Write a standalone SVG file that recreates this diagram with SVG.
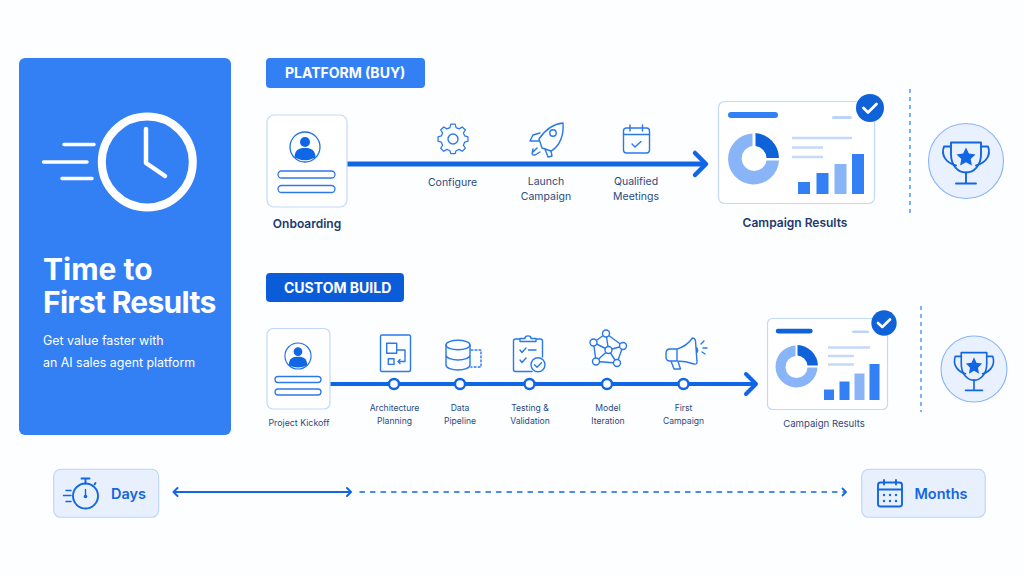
<svg xmlns="http://www.w3.org/2000/svg" xmlns:xlink="http://www.w3.org/1999/xlink" width="1024" height="576" viewBox="0 0 1024 576">
<style>
text{font-family:Inter,"Noto Sans","Liberation Sans",sans-serif}
.ic{fill:none;stroke:#2a78ea;stroke-width:1.4;stroke-linecap:round;stroke-linejoin:round}
.icb{fill:none;stroke:#1266e2;stroke-width:1.9;stroke-linecap:round;stroke-linejoin:round}
.w{fill:none;stroke:#fff;stroke-linecap:round;stroke-linejoin:round}
.card{fill:#fff;stroke:#c3d8fb;stroke-width:1.2}
.bar{fill:#fff;stroke:#2f78ea;stroke-width:1.3}
.s1{font-size:10.500px;fill:#2c4a7e;text-anchor:middle}
.s2{font-size:8.600px;fill:#2c4a7e;text-anchor:middle}
.hd{font-size:12px;font-weight:600;fill:#1c3a6e;text-anchor:middle}
.tag{font-size:14px;font-weight:700;fill:#fff}
.ln{stroke:#c5d9fa;stroke-width:2.4;fill:none}
.m{fill:#3380f5}.l{fill:#8ab4f8}.d{fill:#0f62d8}
.conn{fill:none;stroke:#1066e4;stroke-linejoin:round;stroke-linecap:round}
.node{fill:#fff;stroke:#1066e4;stroke-width:2.4}
.pill{fill:#e8f0fe;stroke:#bcd4fa;stroke-width:1.1}
.pt{font-size:14.500px;font-weight:600;fill:#1565e0}
</style>
<defs>
<g id="person">
<circle r="15" fill="#fff" stroke="#1f6fe5" stroke-width="1.300"/>
<circle cy="-5" r="5" fill="#1066e4"/>
<path d="M-10.500 10.500C-10.500 2.500-5.500 1 0 1S10.500 2.500 10.500 10.500Q5 13.200 0 13.200T-10.500 10.500Z" fill="#1066e4"/>
</g>
<g id="trophy">
<path class="icb" d="M-15-14H15V-2C15 9 8 16 0 16S-15 9-15-2Z"/>
<path class="icb" d="M-15-10H-22C-25-2-21 6-10 9M15-10H22C25-2 21 6 10 9"/>
<path class="icb" d="M0 16V27M-10 27H10"/>
<path d="M0-9L2.900-3 9.500-2.100 4.700 2.400 5.900 9 0 5.800-5.900 9-4.700 2.400-9.500-2.100-2.900-3Z" fill="#1066e4"/>
</g>
</defs>
<rect width="1024" height="576" fill="#fdfeff"/>

<g id="connectors">
<path class="conn" stroke-width="5" stroke-linecap="butt" d="M347 164H704"/>
<path class="conn" stroke-width="4.500" d="M695 153L706 164 695 175"/>
<path class="conn" stroke-width="4" d="M330 384H754"/>
<path class="conn" stroke-width="4" d="M746 374L756 384 746 394"/>
<path class="conn" stroke-width="2" d="M174 492H350M177.500 488L173.500 492 177.500 496M347 488L351 492 347 496"/>
<path class="conn" stroke-width="1.400" stroke-dasharray="4.500 6" stroke-linecap="butt" d="M360 492H844"/>
<path class="conn" stroke-width="1.800" d="M842.500 488.500L846 492 842.500 495.500"/>
<path fill="none" stroke="#5b97ef" stroke-width="1.500" stroke-dasharray="4 4" d="M910 89V215M921 306V412"/>
</g>

<g id="panel">
<rect x="19" y="58" width="212" height="377" rx="6" fill="#3380f5"/>
<circle class="w" cx="147.300" cy="162" r="45.500" stroke-width="8"/>
<path class="w" stroke-width="4.500" d="M146 129V163L165 176"/>
<path class="w" stroke-width="3.500" d="M64 144.500H94M43.500 162H87M62 178.500H92"/>
<text x="43" y="280" font-size="30" font-weight="700" fill="#fff">Time to</text>
<text x="43" y="313" font-size="30" font-weight="700" fill="#fff" letter-spacing="-.7">First Results</text>
<text x="43" y="345" font-size="12.400" fill="#fff">Get value faster with</text>
<text x="43" y="367" font-size="12.400" fill="#fff">an AI sales agent platform</text>
</g>

<g id="platform-label">
<rect x="266" y="58" width="159" height="30" rx="4" fill="#3380f5"/>
<text class="tag" x="285" y="78">PLATFORM (BUY)</text>
</g>
<g id="onboarding">
<rect class="card" x="267" y="115" width="80" height="92" rx="7"/>
<use href="#person" x="305" y="147"/>
<rect class="bar" x="278" y="171" width="57" height="7" rx="3.500"/>
<rect class="bar" x="278" y="185.500" width="57" height="7" rx="3.500"/>
<text class="hd" x="307" y="228">Onboarding</text>
</g>
<g id="configure">
<path class="ic" transform="translate(453 139) scale(.88) translate(-453 -139.500)" d="M450.500 122.500H455.500L456.500 126.500 460 128 463.500 125.800 467 129.300 464.800 132.800 466.300 136 470 137V142L466.300 143 464.800 146.500 467 150 463.500 153.500 460 151.300 456.500 152.800 455.500 156H450.500L449.500 152.800 446 151.300 442.500 153.500 439 150 441.200 146.500 439.700 143 436 142V137L439.700 136 441.200 132.800 439 129.300 442.500 125.800 446 128 449.500 126.500Z"/>
<circle class="ic" cx="453" cy="139" r="5"/>
<text class="s1" x="452.500" y="186">Configure</text>
</g>
<g id="launch">
<path class="ic" d="M563 123C553 124 545 130 539 139L542 148 551 151C560 146 564 135 563 123Z"/>
<circle class="ic" cx="553" cy="133" r="3.200"/>
<path class="ic" d="M540 133L533 135 530 141 539 141M551 151L552 156 548 157 545 149"/>
<path class="ic" d="M537 148L533 152M540 152L535 155 533 155M533 149L532 154"/>
<text class="s1" x="546" y="185">Launch</text>
<text class="s1" x="546" y="200">Campaign</text>
</g>
<g id="qualified">
<rect class="ic" x="623.500" y="128" width="26" height="25" rx="3"/>
<path class="ic" d="M623.500 134.500H649.500M630 125V131M642.500 125V131M632 144L635 147 641 141.500"/>
<text class="s1" x="636" y="185">Qualified</text>
<text class="s1" x="636" y="200">Meetings</text>
</g>
<g id="results-1">
<rect class="card" x="718.500" y="101.500" width="156" height="102" rx="6"/>
<rect class="m" x="728" y="112" width="50" height="6" rx="3"/>
<rect x="832" y="116" width="20" height="3" rx="1.500" fill="#bcd4fa"/>
<path class="l" d="M752.500 133.500A25.500 25.500 0 1 0 779 160.500H766.500A12.500 12.500 0 1 1 752.500 146Z"/>
<path class="d" d="M755.500 133A25.500 25.500 0 0 1 779 158H766.500A12.500 12.500 0 0 0 755.500 146Z"/>
<path class="ln" d="M792 138H852M792 147.500H823M792 157H823"/>
<rect class="m" x="798" y="182" width="12" height="12"/>
<rect class="m" x="816.500" y="173" width="12" height="21"/>
<rect class="l" x="834.500" y="164" width="12" height="30"/>
<rect class="m" x="852" y="154" width="12" height="40"/>
<circle class="d" cx="870" cy="108" r="14"/>
<path class="w" stroke-width="2.800" d="M863.500 108L868 112.500 876.500 104"/>
<text class="hd" x="795" y="227">Campaign Results</text>
</g>
<g id="trophy-1">
<circle cx="966" cy="161" r="37.500" fill="#eaf1fe" stroke="#8ab4f8" stroke-width="1.100"/>
<use href="#trophy" x="966" y="156.500"/>
</g>

<g id="custom-label">
<rect x="266" y="273" width="138" height="29" rx="4" fill="#0b5cd8"/>
<text class="tag" x="284" y="293">CUSTOM BUILD</text>
</g>
<g id="kickoff">
<rect class="card" x="267" y="328.500" width="63" height="80.500" rx="6"/>
<use href="#person" transform="translate(298 356) scale(.87)"/>
<rect class="bar" x="275" y="376.500" width="46" height="6" rx="3"/>
<rect class="bar" x="275" y="389" width="46" height="6" rx="3"/>
<text x="299" y="426" font-size="8.800" fill="#2c4a7e" text-anchor="middle">Project Kickoff</text>
</g>
<g id="architecture">
<rect class="ic" x="380.500" y="335" width="30" height="36.500" rx="1.500"/>
<rect class="ic" x="386.700" y="343.300" width="10" height="10"/>
<rect class="ic" x="388.300" y="358.700" width="5.700" height="5.700"/>
<path class="ic" d="M396.700 350H405V361.500H398M400 359.500L398 361.500 400 363.500"/>
<circle class="node" cx="394" cy="384" r="5"/>
<text class="s2" x="394.500" y="411">Architecture</text>
<text class="s2" x="394.500" y="424">Planning</text>
</g>
<g id="data">
<ellipse class="ic" cx="458" cy="345" rx="12" ry="4.800"/>
<path class="ic" d="M446 345V365C446 368 452 370 458 370S470 368 470 365V345M446 355C446 358 452 360 458 360S470 358 470 355"/>
<path class="ic" stroke-dasharray="1.800 2.200" stroke-linecap="butt" d="M471 350H481V367H471"/>
<circle class="node" cx="460" cy="384" r="5"/>
<text class="s2" x="460" y="411">Data</text>
<text class="s2" x="460" y="424">Pipeline</text>
</g>
<g id="testing">
<path class="ic" d="M520 339H515.500Q513.500 339 513.500 341V369.500Q513.500 371.500 515.500 371.500H532M536 339H540.500Q542.500 339 542.500 341V357M520 341.500V338.500H525C525 335 531 335 531 338.500H536V341.500Z"/>
<path class="ic" d="M520 350L522 352.500 526 348M528.500 350H536M520 360L522 362.500 526 358"/>
<circle class="ic" cx="538" cy="364.700" r="7"/>
<path class="ic" d="M534.500 364.800L537 367.300 541.500 362.800"/>
<circle class="node" cx="529.500" cy="384" r="5"/>
<text class="s2" x="530" y="411">Testing &amp;</text>
<text class="s2" x="530" y="424">Validation</text>
</g>
<g id="model">
<path class="ic" d="M606 333.500L623 346 617 363 596 361.500 593.500 342.500ZM606 333.500L608.500 350 593.500 342.500M608.500 350L623 346M608.500 350L617 363M608.500 350L596 361.500"/>
<g class="ic" style="fill:#fff"><circle cx="606" cy="333.500" r="3.500"/><circle cx="623" cy="346" r="3.500"/><circle cx="617" cy="363" r="3.500"/><circle cx="596" cy="361.500" r="3.500"/><circle cx="593.500" cy="342.500" r="3.500"/><circle cx="608.500" cy="350" r="3.500"/></g>
<circle class="node" cx="607" cy="384" r="5"/>
<text class="s2" x="608" y="411">Model</text>
<text class="s2" x="608" y="424">Iteration</text>
</g>
<g id="first-campaign">
<path class="ic" d="M677 349H670Q666 349 666 353.500V357Q666 361 670 361H677ZM677 349C684 347 689 343 692.500 338Q695 338 695.500 341L697 362Q697 364.500 694 364 686 361 677 361ZM671 361L674 369H680.500L678 361.500M696 347Q699 350 696.500 353"/>
<path class="ic" d="M701 344L704 341M703 348H707M702 352L705 354"/>
<circle class="node" cx="683.500" cy="384" r="5"/>
<text class="s2" x="683.500" y="411">First</text>
<text class="s2" x="683.500" y="424">Campaign</text>
</g>
<g id="results-2">
<rect class="card" x="767.500" y="318.500" width="120" height="91" rx="5"/>
<rect class="d" x="775.700" y="328.700" width="37" height="4.800" rx="2.400"/>
<rect x="852" y="330.500" width="17" height="2.500" rx="1.200" fill="#bcd4fa"/>
<path class="l" d="M795.500 345.500A21 21 0 1 0 817.500 367.500H807.500A11 11 0 1 1 795.500 356Z"/>
<path class="d" d="M797.500 345A21.500 21.500 0 0 1 818 365.500H807.500A11 11 0 0 0 797.500 355.500Z"/>
<path class="ln" stroke-width="2" d="M828 347.500H870M828 356H854M828 364.500H854"/>
<rect class="m" x="824" y="389.500" width="10" height="10.500"/>
<rect class="m" x="839.500" y="381.500" width="10" height="18.500"/>
<rect class="l" x="854.500" y="373.500" width="10" height="26.500"/>
<rect class="m" x="869.500" y="364" width="10" height="36"/>
<circle class="d" cx="884" cy="323" r="12.700"/>
<path class="w" stroke-width="2.600" d="M878 323L882.300 327 890 319.500"/>
<text x="824" y="427" font-size="9.600" fill="#2c4a7e" text-anchor="middle">Campaign Results</text>
</g>
<g id="trophy-2">
<circle cx="974" cy="369" r="33" fill="#eaf1fe" stroke="#8ab4f8" stroke-width="1.100"/>
<use href="#trophy" transform="translate(974 365.500) scale(.85 .92)"/>
</g>

<g id="days">
<rect class="pill" x="53.700" y="469.300" width="105" height="48" rx="7"/>
<circle class="icb" cx="85.500" cy="496" r="12.500"/>
<path class="icb" d="M85.500 483.500V478.500M81.500 478.500H89.500M94.500 484.500L95.500 483"/>
<path class="icb" style="stroke-width:1.400" d="M85.500 489.500V496"/>
<circle cx="85.500" cy="496.500" r="1.800" fill="#1066e4"/>
<path class="icb" style="stroke-width:1.500" d="M66 490.500H71M63.500 495.500H71M66 501.500H71"/>
<text class="pt" x="111" y="499">Days</text>
</g>
<g id="months">
<rect class="pill" x="861.700" y="469.300" width="123.500" height="48" rx="7"/>
<rect class="icb" x="878" y="482.500" width="24" height="24" rx="2.500"/>
<path class="icb" d="M878 489.500H902M884 480V484.500M896 480V484.500"/>
<g fill="#1066e4"><circle cx="884" cy="495" r="1.200"/><circle cx="890" cy="495" r="1.200"/><circle cx="896" cy="495" r="1.200"/><circle cx="884" cy="501" r="1.200"/><circle cx="890" cy="501" r="1.200"/><circle cx="896" cy="501" r="1.200"/></g>
<text class="pt" x="914.500" y="499">Months</text>
</g>
</svg>
